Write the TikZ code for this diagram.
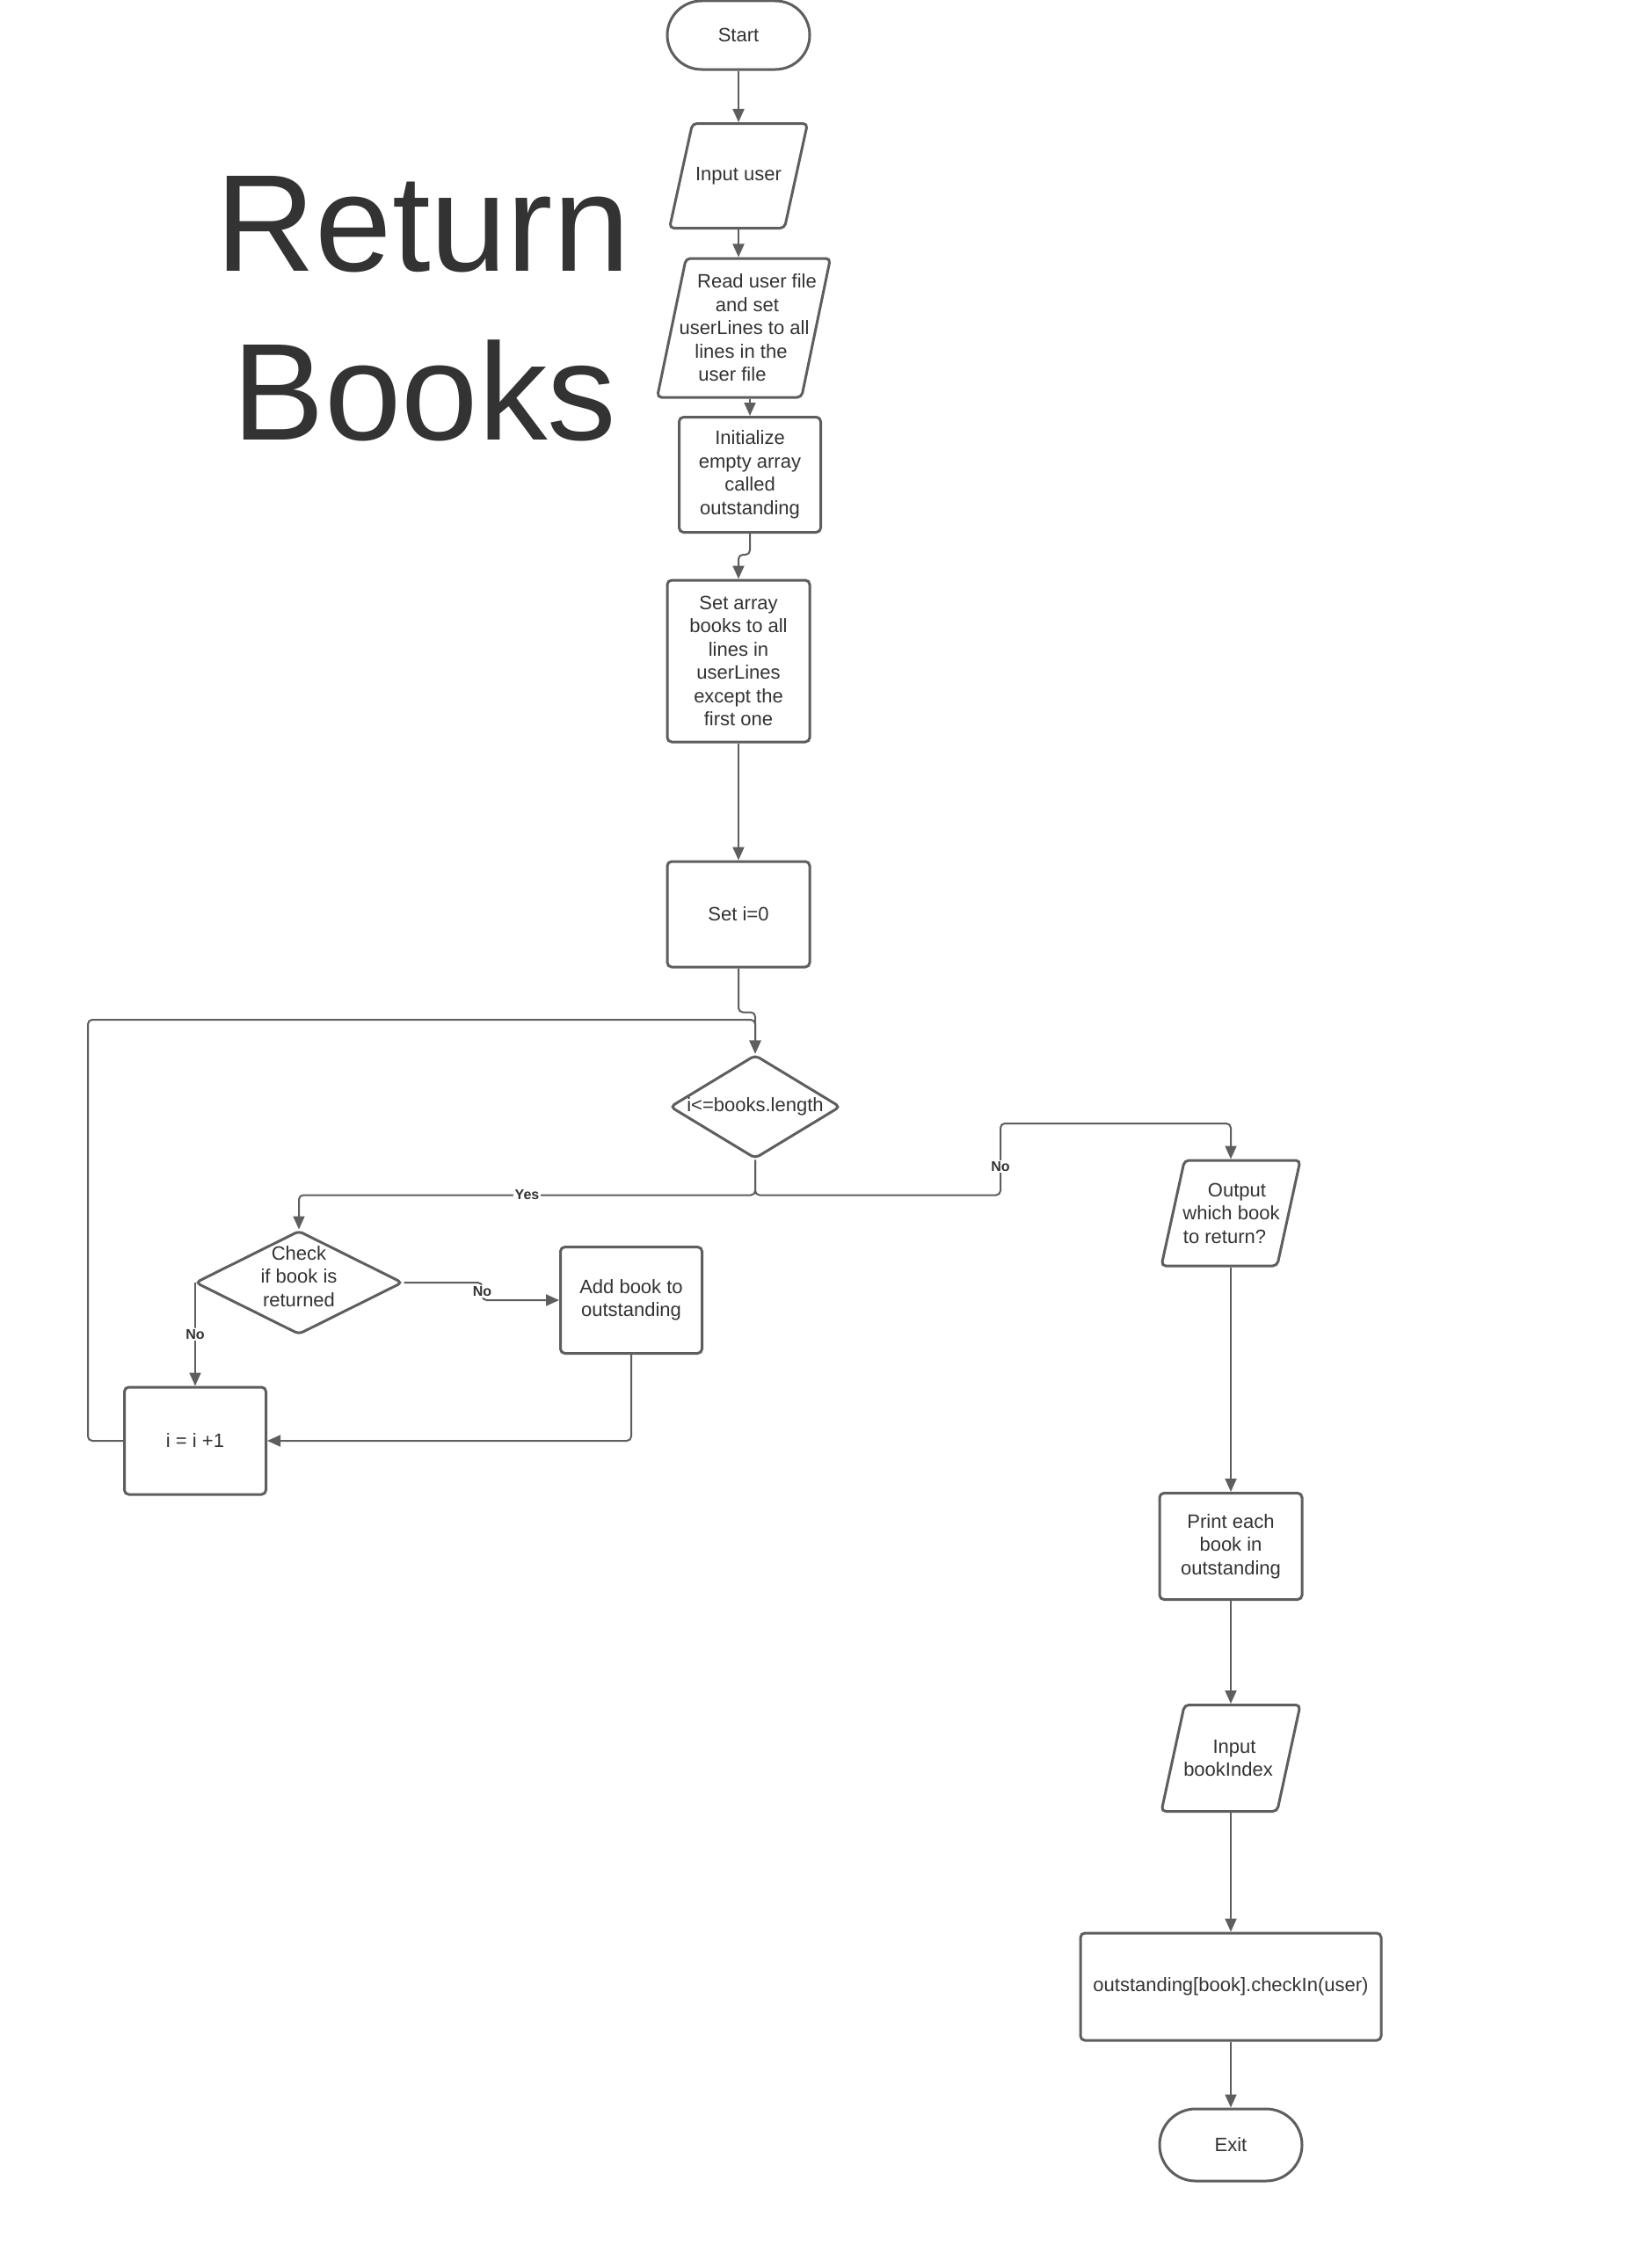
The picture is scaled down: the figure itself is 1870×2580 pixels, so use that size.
\documentclass[tikz,border=0pt]{standalone}
\usepackage{fontspec}
\setmainfont{Liberation Sans}
\usepackage{xcolor}
\usepackage{tikz}
\usetikzlibrary{arrows.meta}
\usetikzlibrary{shapes.geometric}

\definecolor{linegray}{HTML}{5E5E5E}
\definecolor{textgray}{HTML}{333333}

% move one line of a centred text sideways
\newcommand{\shiftln}[2]{\hspace*{#1}#2\hspace*{-#1}}

\tikzset{
  chart/.style={draw=linegray, line width=3pt, fill=white, text=textgray,
    font=\fontsize{22}{26.5}\selectfont, align=center, inner sep=0pt},
  terminal/.style={chart, rectangle, rounded corners=39pt, minimum width=162pt, minimum height=78pt},
  process/.style={chart, rectangle, rounded corners=5pt, minimum width=162pt},
  iobox/.style={chart, trapezium, trapezium left angle=76, trapezium right angle=104,
    trapezium stretches=true, inner sep=4pt, rounded corners=5pt},
  iotext/.style={text=textgray, font=\fontsize{22}{26.5}\selectfont, align=center, inner sep=0pt},
  decision/.style={chart, diamond, aspect=2, rounded corners=5pt},
  flow/.style={draw=linegray, line width=2pt, rounded corners=5pt, -{Triangle[length=15pt,width=13pt]}},
  answer/.style={fill=white, text=textgray, font=\bfseries\fontsize{16}{19}\selectfont, inner sep=1.5pt}
}

\begin{document}
\begin{tikzpicture}[x=1pt, y=-1pt]
    \fill[white] (0,0) rectangle (1870,2580);
    \useasboundingbox (0,0) rectangle (1870,2580);

    % title
    \node[text=textgray, font=\fontsize{157}{192}\selectfont, anchor=base] (title1) at (481,308) {Return};
    \node[text=textgray, font=\fontsize{157}{192}\selectfont, anchor=base] (title2) at (483,500) {Books};

    % main column
    \node[terminal] (start) at (840,40) {Start};
    \node[iobox, minimum width=157pt, minimum height=119pt,
      label={[iotext]center:{Input user}}] (inp) at (840,200) {};
    \node[iobox, minimum width=197pt, minimum height=158pt,
      label={[iotext]center:{\shiftln{15pt}{Read user file}\\\shiftln{8pt}{and set}\\\shiftln{1pt}{userLines to all}\\\shiftln{-6pt}{lines in the}\\\shiftln{-13pt}{user file}}}] (read) at (846,373) {};
    \node[process, minimum width=161pt, minimum height=131pt] (init) at (853,540) {Initialize\\empty array\\called\\outstanding};
    \node[process, minimum height=184pt] (setarr) at (840,752) {Set array\\books to all\\lines in\\userLines\\except the\\first one};
    \node[process, minimum height=120pt] (seti) at (840,1040) {Set i=0};
    \node[decision, aspect=1.6, minimum width=194pt, minimum height=118pt] (cond) at (859,1259) {i<=books.length};

    % loop body
    \node[decision, inner sep=3pt, minimum width=236pt, minimum height=118pt,
      label={[iotext, yshift=7pt]center:{Check\\if book is\\returned}}] (check) at (340,1459) {};
    \node[process, minimum width=161pt, minimum height=121pt] (add) at (718,1479) {Add book to\\outstanding};
    \node[process, minimum width=161pt, minimum height=122pt] (incr) at (222,1639) {i = i +1};
    \coordinate (loopcorner) at (100,1160);

    % right column
    \coordinate (noturn) at (1138,1278);
    \node[iobox, minimum width=158pt, minimum height=120pt,
      label={[iotext]center:{\shiftln{7pt}{Output}\\\shiftln{1pt}{which book}\\\shiftln{-7pt}{to return?}}}] (out) at (1400,1380) {};
    \node[process, minimum height=121pt] (print) at (1400,1759) {Print each\\book in\\outstanding};
    \node[iobox, minimum width=158pt, minimum height=121pt,
      label={[iotext]center:{\shiftln{4pt}{Input}\\\shiftln{-3pt}{bookIndex}}}] (bidx) at (1400,2000) {};
    \node[process, minimum width=342pt, minimum height=122pt] (chkin) at (1400,2260) {outstanding[book].checkIn(user)};
    \node[terminal, minimum height=82pt, rounded corners=41pt] (exit) at (1400,2440) {Exit};

    % connectors
    \draw[flow] (start.south) -- (inp.north);
    \draw[flow] (inp.south) -- (inp.south |- read.north);
    \draw[flow] (init.north |- read.south) -- (init.north);
    \draw[flow] (init.south) -- ++(0,24) -| (setarr.north);
    \draw[flow] (setarr.south) -- (seti.north);
    \draw[flow] (seti.south) -- ++(0,50) -| (cond.north);
    \draw[flow] (cond.south) -- ++(0,40) coordinate (split) -| node[answer, pos=0.25] {Yes} (check.north);
    \draw[flow] (cond.south) -- (split) -| node[answer, pos=0.7] {No} (noturn) -| (out.north);
    \draw[flow] (check.east) -- ++(89,0) |- node[answer, pos=0.25] {No} (add.west);
    \draw[flow] (incr.north |- check.west) -- node[answer] {No} (incr.north);
    \draw[flow] (add.south) |- (incr.east);
    \draw[flow] (incr.west) -| (loopcorner) -| (cond.north);
    \draw[flow] (out.south) -- (print.north);
    \draw[flow] (print.south) -- (bidx.north);
    \draw[flow] (bidx.south) -- (chkin.north);
    \draw[flow] (chkin.south) -- (exit.north);
\end{tikzpicture}
\end{document}
